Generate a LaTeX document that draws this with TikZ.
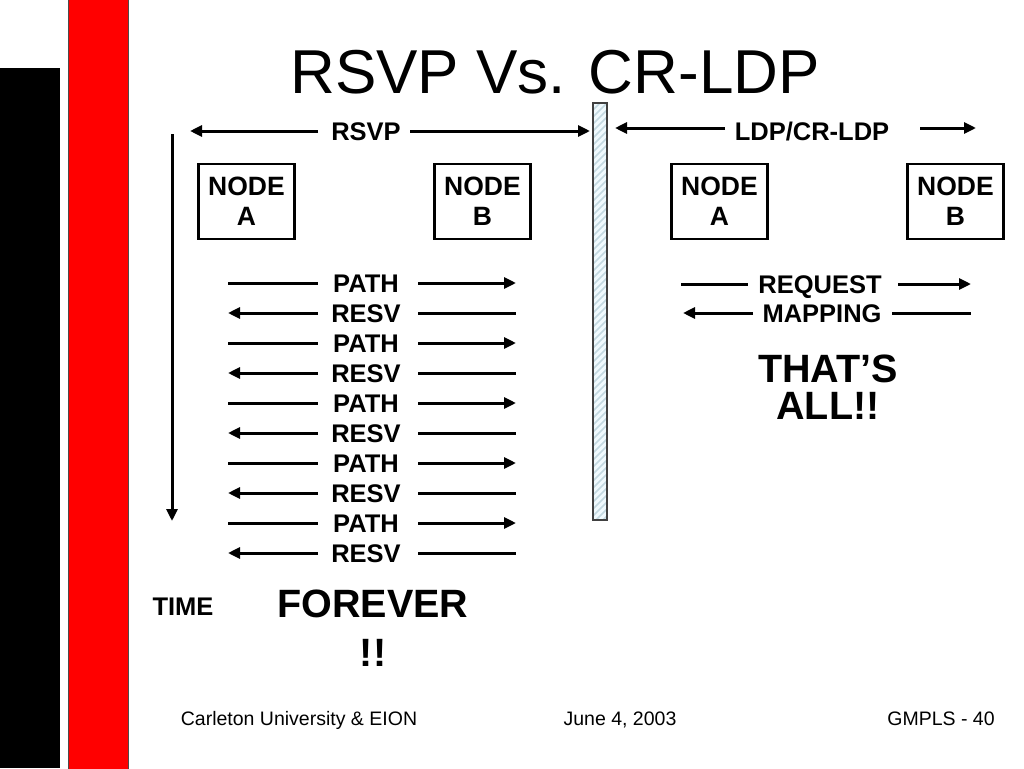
\documentclass[tikz,border=0pt]{standalone}
\usepackage{fontspec}
\setmainfont{Liberation Sans}
\usetikzlibrary{arrows.meta}
\begin{document}
\begin{tikzpicture}[x=1pt,y=-1pt,
  lbl/.style={font=\fontsize{25.5}{29}\selectfont\bfseries, inner sep=0pt, anchor=base},
  big/.style={font=\fontsize{39.5}{40}\selectfont\bfseries, inner sep=0pt, anchor=base},
  foot/.style={font=\fontsize{19.5}{20}\selectfont, inner sep=0pt, anchor=base},
  nodebox/.style={draw, line width=2.5pt, minimum width=96pt, minimum height=75pt, align=center, inner sep=0pt, font=\fontsize{26.5}{30}\selectfont\bfseries},
  arr/.style={line width=3pt, -{Triangle[length=12pt,width=11pt]}},
  ln/.style={line width=3pt}]
\useasboundingbox (0,0) rectangle (1024,768);
% side bars
\fill[black] (0,68) rectangle (60,768);
\filldraw[fill=red, draw=black!70, line width=0.8pt] (68,-2) rectangle (128,770);
% title
\node[font=\fontsize{62}{62}\selectfont, inner sep=0pt, anchor=base] (title) at (555,93) {RSVP Vs. CR-LDP};
% divider bar
\fill[cyan!6] (593,103) rectangle (607,520);
\begin{scope}
\clip (593,103) rectangle (607,520);
\foreach \k in {0,...,62} {
  \draw[cyan!35!gray!40, line width=1.5pt] (593,103+7*\k) -- (607,89+7*\k);
}
\end{scope}
\draw[black!75, line width=1.5pt] (593,103) rectangle (607,520);
% time arrow
\coordinate (t0) at (172,134);
\coordinate (t1) at (172,521);
\draw[arr] (t0) -- (t1);
\node[lbl] (time) at (183,615.3) {TIME};
% RSVP header
\node[lbl] (rsvp) at (366,140.2) {RSVP};
\coordinate (rl) at (190,131);
\coordinate (rr) at (590,131);
\coordinate (rla) at (318,131);
\coordinate (rra) at (410,131);
\draw[arr] (rla) -- (rl);
\draw[arr] (rra) -- (rr);
% LDP header
\node[lbl] (ldp) at (812,140.2) {LDP/CR-LDP};
\coordinate (ll) at (615,128);
\coordinate (lla) at (725,128);
\coordinate (lra) at (920,128);
\coordinate (lr) at (976,128);
\draw[arr] (lla) -- (ll);
\draw[arr] (lra) -- (lr);
% nodes
\node[nodebox] (nA) at (246.5,201.5) {NODE\\A};
\node[nodebox] (nB) at (482.5,201.5) {NODE\\B};
\node[nodebox] (lA) at (719.5,201.5) {NODE\\A};
\node[nodebox] (lB) at (955.5,201.5) {NODE\\B};
% RSVP rows
\foreach \i in {0,2,4,6,8} {
  \pgfmathsetmacro{\yy}{283+30*\i}
  \pgfmathsetmacro{\yb}{292.2+30*\i}
  \node[lbl] (p\i) at (366,\yb) {PATH};
  \coordinate (pl\i) at (228,\yy);
  \coordinate (pm\i) at (318,\yy);
  \coordinate (pn\i) at (418,\yy);
  \coordinate (pr\i) at (516,\yy);
  \draw[ln] (pl\i) -- (pm\i);
  \draw[arr] (pn\i) -- (pr\i);
}
\foreach \i in {1,3,5,7,9} {
  \pgfmathsetmacro{\yy}{283+30*\i}
  \pgfmathsetmacro{\yb}{292.2+30*\i}
  \node[lbl] (r\i) at (366,\yb) {RESV};
  \coordinate (rl\i) at (228,\yy);
  \coordinate (rm\i) at (318,\yy);
  \coordinate (rn\i) at (418,\yy);
  \coordinate (rr\i) at (516,\yy);
  \draw[arr] (rm\i) -- (rl\i);
  \draw[ln] (rn\i) -- (rr\i);
}
\node[big] (forever) at (373,617.2) {FOREVER};
\node[big] (bang) at (373,666.2) {!!};
% CR-LDP rows
\node[lbl] (req) at (820,293.2) {REQUEST};
\coordinate (q1) at (681,284);
\coordinate (q2) at (748,284);
\coordinate (q3) at (898,284);
\coordinate (q4) at (971,284);
\draw[ln] (q1) -- (q2);
\draw[arr] (q3) -- (q4);
\node[lbl] (map) at (822,322.2) {MAPPING};
\coordinate (m1) at (683,313);
\coordinate (m2) at (753,313);
\coordinate (m3) at (892,313);
\coordinate (m4) at (971,313);
\draw[arr] (m2) -- (m1);
\draw[ln] (m3) -- (m4);
\node[big] (thats) at (828,382.2) {THAT’S};
\node[big] (all) at (828,419.2) {ALL!!};
% footer
\node[foot] (f1) at (299,725) {Carleton University \& EION};
\node[foot] (f2) at (620,725) {June 4, 2003};
\node[foot] (f3) at (941,725) {GMPLS - 40};
\end{tikzpicture}
\end{document}
